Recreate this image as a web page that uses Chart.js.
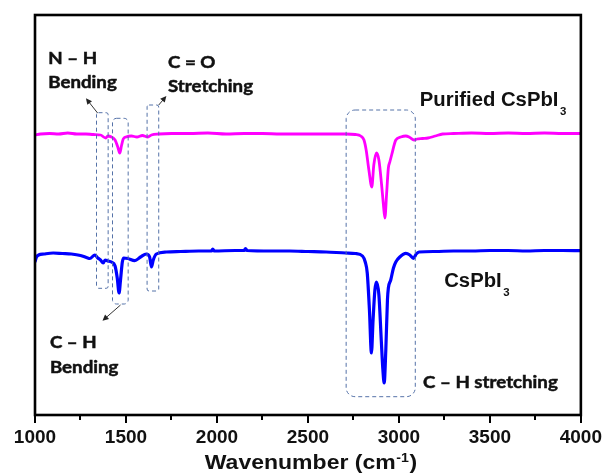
<!DOCTYPE html>
<html><head><meta charset="utf-8">
<script src="https://cdn.jsdelivr.net/npm/chart.js@4.4.0/dist/chart.umd.min.js"></script>
<style>html,body{margin:0;padding:0;background:#fff;} #wrap{width:605px;height:474px;}</style>
</head><body><div id="wrap"><canvas id="c" width="605" height="474"></canvas></div>
<script>
// Purified CsPbI3 spectrum (wavenumber, transmittance a.u.)
const purifiedWn = [1000,1030,1080,1130,1180,1230,1280,1320,1360,1389,1400,1420,1440,1455,1466,1475,1485,1500,1530,1560,1590,1620,1640,1680,1750,1850,1950,2050,2150,2250,2350,2450,2550,2650,2710,2760,2790,2808,2820,2835,2851,2862,2877,2890,2905,2915,2923,2932,2942,2950,2960,2983,3010,3038,3060,3083,3100,3130,3160,3200,3240,3300,3400,3500,3600,3700,3800,3900,4000];
const purifiedT  = [280,281,281.5,281,282,281,281,280.5,280,277,279,278,275,268,262,269,276,278,279,278,279.5,278,280,281,281.5,281.5,282,281,281.5,281.5,281,281,281,281,281,280.5,279,275,265,245,228,250,262,255,230,210,197,220,247,253,260,275,278,279,277.5,275,276,276.5,277,279,281,281.5,282,281.5,282,281.5,282,281.5,281.5];
// CsPbI3 spectrum
const rawWn = [1000,1008,1020,1050,1100,1150,1200,1250,1290,1301,1329,1345,1360,1375,1385,1400,1420,1440,1452,1462,1470,1480,1488,1510,1548,1580,1612,1630,1640,1650,1667,1722,1800,1900,1970,1977,1985,2100,2150,2157,2165,2300,2400,2500,2600,2709,2760,2800,2815,2826,2838,2849,2858,2868,2877,2890,2903,2912,2919,2928,2937,2942,2955,2970,2983,3005,3038,3060,3080,3095,3111,3200,3300,3400,3500,3600,3700,3800,3900,4000];
const rawT  = [153,158,160,161,162,161.5,161,159.5,157,156.5,160,157,155,152,155,154,153,149,137,122,135,153,157,156.5,154.3,158,161,158,148,155,161,163,163.5,164,164,166,164,164.5,164.5,166.5,164.5,164,164,163.5,163,162,161.5,159,153,142,105,62,95,125,133,120,75,45,32,65,115,127,135,147,153,158,161.7,160,156.7,161,163,163.5,164,164,164.5,164.5,164,164.5,164.5,164.3];
const tickValues = [1000,1500,2000,2500,3000,3500,4000];
const seriesNames = ['Purified CsPbI3','CsPbI3'];
const xTitle = 'Wavenumber (cm';

// annotation boxes [x0,x1,yBottom,yTop,radius]
const boxes = [[1338,1402,126.7,302.3,2],[1426,1512,111,296.7,4],[1616,1680,124,310,2],[2710,3090,18.3,305,9]];
// arrows [x0,y0,x1,y1]
const arrows = [[1344,302,1280,316.7],[1680,310,1722,319],[1470,110,1371,94.3]];
// texts [text, x, y, kind, subscript]
const labels = [
  ['N – H',1073,350.7,'c',''],['Bending',1073,326.7,'c',''],
  ['C = O',1731,347.3,'c',''],['Stretching',1731,323.3,'c',''],
  ['Purified CsPbI',3115,309,'a','3'],['CsPbI',3249,127.7,'a','3'],
  ['C – H stretching',3133,26.7,'c',''],
  ['C – H',1082,66.7,'c',''],['Bending',1082,42.3,'c','']
];

const toPts = (xs, ys) => xs.map((x,i)=>({x, y: ys[i]}));

const annot = {
  id:'annot',
  afterDatasetsDraw(chart){
    const ctx = chart.ctx, xs = chart.scales.x, ys = chart.scales.y;
    ctx.save();
    ctx.strokeStyle = '#5572a8'; ctx.lineWidth = 1; ctx.setLineDash([4,3]);
    boxes.forEach(b=>{
      const x0=xs.getPixelForValue(b[0]), x1=xs.getPixelForValue(b[1]);
      const y0=ys.getPixelForValue(b[3]), y1=ys.getPixelForValue(b[2]);
      ctx.beginPath(); ctx.roundRect(x0,y0,x1-x0,y1-y0,b[4]); ctx.stroke();
    });
    ctx.setLineDash([]);
    ctx.strokeStyle='#333'; ctx.fillStyle='#222';
    arrows.forEach(a=>{
      const x0=xs.getPixelForValue(a[0]), y0=ys.getPixelForValue(a[1]);
      const x1=xs.getPixelForValue(a[2]), y1=ys.getPixelForValue(a[3]);
      const ang=Math.atan2(y1-y0,x1-x0);
      ctx.beginPath(); ctx.moveTo(x0,y0); ctx.lineTo(x1-4*Math.cos(ang),y1-4*Math.sin(ang)); ctx.stroke();
      ctx.beginPath(); ctx.moveTo(x1,y1);
      ctx.lineTo(x1-6*Math.cos(ang)+3*Math.sin(ang), y1-6*Math.sin(ang)-3*Math.cos(ang));
      ctx.lineTo(x1-6*Math.cos(ang)-3*Math.sin(ang), y1-6*Math.sin(ang)+3*Math.cos(ang));
      ctx.closePath(); ctx.fill();
    });
    ctx.restore();
  },
  afterDraw(chart){
    const ctx = chart.ctx, xs = chart.scales.x, ys = chart.scales.y, ca = chart.chartArea;
    ctx.save();
    // frame
    ctx.strokeStyle='#000'; ctx.lineWidth=2.6;
    ctx.strokeRect(ca.left, ca.top, ca.right-ca.left, ca.bottom-ca.top);
    // ticks
    ctx.lineWidth=2;
    xs.ticks.forEach(t=>{
      const px = Math.round(xs.getPixelForValue(t.value));
      const major = tickValues.includes(t.value);
      ctx.beginPath(); ctx.moveTo(px, ca.bottom); ctx.lineTo(px, ca.bottom + (major?8:5)); ctx.stroke();
    });
    // labels
    ctx.fillStyle='#111'; ctx.strokeStyle='#111'; ctx.textBaseline='alphabetic';
    labels.forEach(l=>{
      const px=xs.getPixelForValue(l[1]), py=ys.getPixelForValue(l[2]);
      ctx.save(); ctx.translate(px,py);
      if(l[3]==='c'){ ctx.font='bold 17px Lato'; ctx.scale(1.1,1); ctx.lineWidth=0.5; ctx.fillText(l[0],0,0); ctx.strokeText(l[0],0,0); }
      else {
        ctx.scale(1.04,1);
        ctx.font='bold 19.5px "Liberation Sans", Arial'; ctx.fillText(l[0],0,0);
        const w=ctx.measureText(l[0]).width;
        ctx.font='bold 11px "Liberation Sans", Arial'; ctx.fillText(l[4], w+1.5, 9);
      }
      ctx.restore();
    });
    // x title
    const f1='bold 19.5px "Liberation Sans", Arial', f2='bold 12px "Liberation Sans", Arial';
    ctx.font=f1; const w1=ctx.measureText(xTitle).width, w3=ctx.measureText(')').width;
    ctx.font=f2; const w2=ctx.measureText('-1').width;
    const sx=1.18, tot=(w1+w2+w3+1)*sx, cx=(ca.left+ca.right)/2+3;
    ctx.translate(cx-tot/2, 468.5); ctx.scale(sx,1);
    ctx.font=f1; ctx.fillText(xTitle,0,0);
    ctx.font=f2; ctx.fillText('-1', w1+0.5, -6.5);
    ctx.font=f1; ctx.fillText(')', w1+w2+1, 0);
    ctx.restore();
  }
};

new Chart(document.getElementById('c'), {
  type:'line',
  data:{ datasets:[
    {label:seriesNames[0], data:toPts(purifiedWn,purifiedT), borderColor:'#ff00ff', borderWidth:2.8, pointRadius:0, cubicInterpolationMode:'monotone'},
    {label:seriesNames[1], data:toPts(rawWn,rawT), borderColor:'#0000ff', borderWidth:3.2, pointRadius:0, cubicInterpolationMode:'monotone'}
  ]},
  options:{
    responsive:false, animation:false, devicePixelRatio:1,
    layout:{padding:{left:35,right:23,top:15,bottom:0}},
    plugins:{legend:{display:false}, tooltip:{enabled:false}},
    scales:{
      x:{type:'linear', min:1000, max:4000,
        afterFit(s){ s.height=59; },
        border:{display:false},
        grid:{drawOnChartArea:false, drawTicks:true, tickLength:8, color:'rgba(0,0,0,0)'},
        ticks:{stepSize:250, autoSkip:false, maxRotation:0, padding:3, color:'#111',
          font:{family:'"Liberation Sans", Arial', size:19, weight:'bold'},
          callback:v=> tickValues.includes(v) ? String(v) : ''}
      },
      y:{display:false, min:0, max:400}
    }
  },
  plugins:[annot]
});
</script></body></html>
